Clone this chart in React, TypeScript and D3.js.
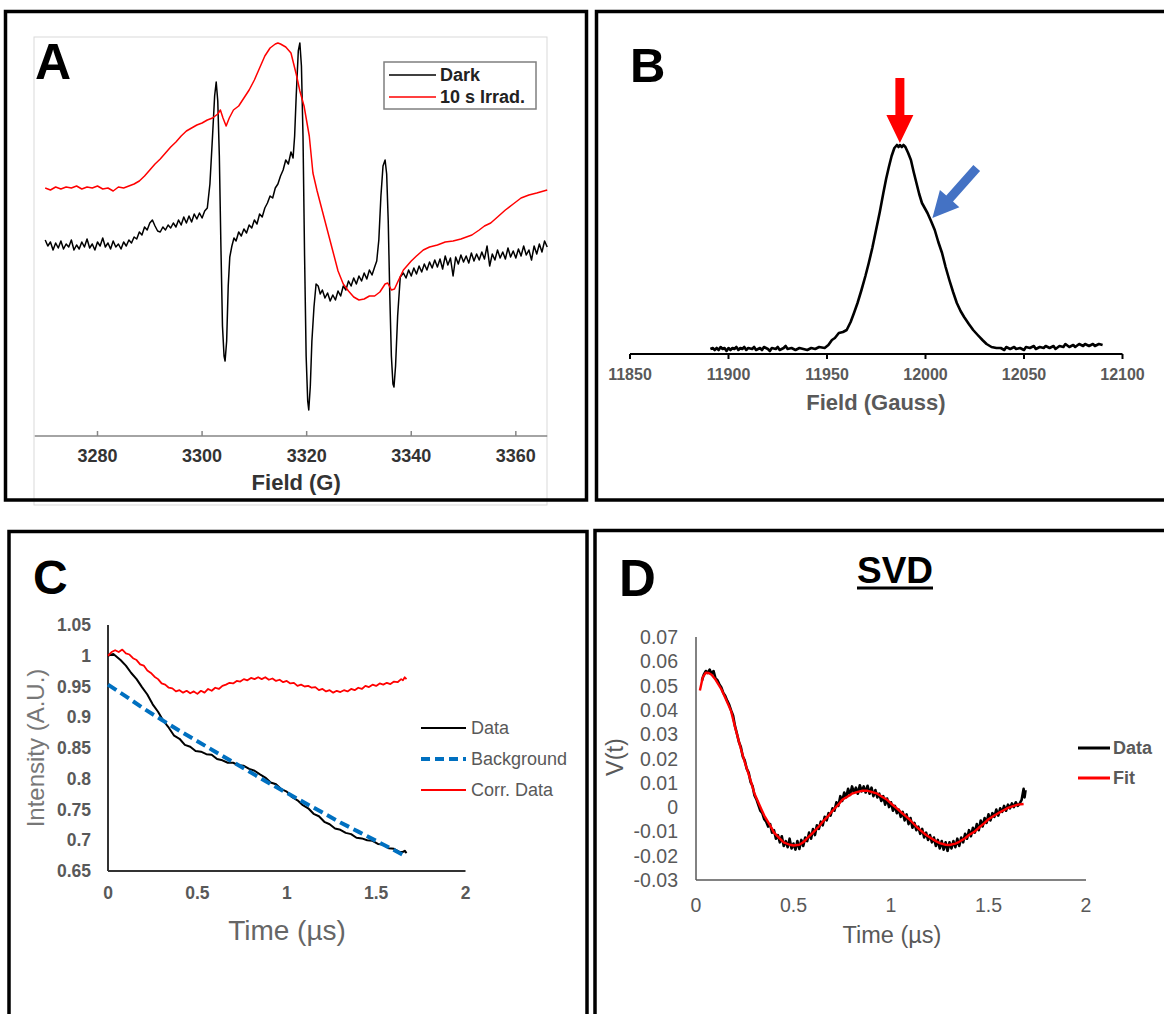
import React from 'react';
import * as d3 from 'd3';

const FONT = "'Liberation Sans', Arial, Helvetica, sans-serif";
const GRAY = '#595959';

// ---------- Panel A : CW EPR (Field in G) ----------
const aTicks = [3280, 3300, 3320, 3340, 3360];
const aDark: [number, number][] = [
  [3270.0,196],[3270.5,190],[3271.0,194],[3271.5,186],[3272.0,193],[3272.5,188],[3273.0,195],[3273.5,187],
  [3274.0,192],[3274.5,189],[3275.0,196],[3275.5,186],[3276.0,191],[3276.5,187],[3277.0,194],[3277.5,189],
  [3278.0,197],[3278.5,188],[3279.0,192],[3279.5,186],[3280.0,194],[3280.5,190],[3281.0,198],[3281.5,189],
  [3282.0,193],[3282.5,187],[3283.0,195],[3283.5,189],[3284.0,192],[3284.5,187],[3285.0,194],[3285.5,190],
  [3286.0,196],[3286.5,193],[3287.0,199],[3287.5,197],[3288.0,204],[3288.5,201],[3289.0,209],[3289.5,206],
  [3290.0,213],[3290.5,216],[3291.0,210],[3291.5,205],[3292.0,204],[3292.5,209],[3293.0,206],[3293.5,211],
  [3294.0,208],[3294.5,213],[3295.0,209],[3295.5,216],[3296.0,211],[3296.5,219],[3297.0,213],[3297.5,220],
  [3298.0,214],[3298.5,222],[3299.0,217],[3299.5,223],[3300.0,218],[3300.5,225],[3301.0,228],[3301.5,252],
  [3302.0,300],[3302.4,340],[3302.7,354],[3303.0,335],[3303.3,280],[3303.6,190],[3303.9,110],[3304.2,80],
  [3304.4,75],[3304.7,95],[3305.0,150],[3305.3,179],[3305.7,190],[3306.1,198],[3306.5,195],[3307.0,204],
  [3307.5,200],[3308.0,207],[3308.5,203],[3309.0,211],[3309.5,208],[3310.0,216],[3310.5,212],[3311.0,222],
  [3311.5,219],[3312.0,228],[3312.5,233],[3313.0,240],[3313.5,238],[3314.0,248],[3314.5,252],[3315.0,260],
  [3315.5,266],[3316.0,276],[3316.5,272],[3317.0,284],[3317.4,278],[3317.7,300],[3318.0,340],[3318.4,385],
  [3318.7,393],[3319.0,370],[3319.3,300],[3319.6,180],[3319.9,80],[3320.2,35],[3320.4,26],[3320.7,50],
  [3321.0,95],[3321.4,129],[3321.8,152],[3322.2,150],[3322.6,142],[3323.0,146],[3323.5,138],[3324.0,143],
  [3324.5,135],[3325.0,141],[3325.5,136],[3326.0,145],[3326.5,140],[3327.0,150],[3327.5,146],[3328.0,155],
  [3328.5,150],[3329.0,158],[3329.5,152],[3330.0,160],[3330.5,155],[3331.0,163],[3331.5,157],[3332.0,166],
  [3332.5,161],[3333.0,169],[3333.4,175],[3333.8,196],[3334.2,240],[3334.6,270],[3335.0,276],[3335.3,262],
  [3335.6,215],[3335.9,140],[3336.2,80],[3336.5,52],[3336.7,49],[3337.0,70],[3337.4,120],[3337.9,159],
  [3338.5,163],[3339.0,158],[3339.5,166],[3340.0,160],[3340.5,168],[3341.0,162],[3341.5,170],[3342.0,164],
  [3342.5,172],[3343.0,166],[3343.5,174],[3344.0,168],[3344.5,176],[3345.0,169],[3345.5,177],[3346.0,167],
  [3346.5,180],[3347.0,171],[3347.5,178],[3348.0,160],[3348.5,179],[3349.0,172],[3349.5,181],[3350.0,174],
  [3350.5,180],[3351.0,173],[3351.5,183],[3352.0,175],[3352.5,182],[3353.0,176],[3353.5,184],[3354.0,177],
  [3354.5,190],[3355.0,170],[3355.5,182],[3356.0,176],[3356.5,186],[3357.0,178],[3357.5,184],[3358.0,177],
  [3358.5,188],[3359.0,179],[3359.5,185],[3360.0,178],[3360.5,187],[3361.0,180],[3361.5,190],[3362.0,181],
  [3362.5,186],[3363.0,176],[3363.5,190],[3364.0,182],[3364.5,192],[3365.0,184],[3365.5,195],[3366.0,189],
];
const aIrrad: [number, number][] = [
  [3270,248],[3271,246],[3272,249],[3273,247],[3274,249],[3275,248],[3276,250],[3277,247],[3278,249],
  [3279,248],[3280,250],[3281,247],[3282,248],[3283,245],[3284,249],[3285,248],[3286,250],[3287,252],
  [3288,255],[3289,260],[3290,266],[3291,272],[3292,277],[3293,283],[3294,289],[3295,294],[3296,300],
  [3297,305],[3298,308],[3299,311],[3300,313],[3301,316],[3302,318],[3303,322],[3303.5,326],[3304.0,318],
  [3304.6,310],[3305.2,318],[3306,326],[3307,330],[3308,338],[3309,346],[3310,356],[3311,368],[3312,380],
  [3313,388],[3314,392],[3314.5,393],[3315,392],[3316,389],[3317,383],[3318,362],[3318.7,345],[3319.5,330],
  [3320.5,300],[3321.2,263],[3322,245],[3323,225],[3324,205],[3325,185],[3326,165],[3327,152],[3328,145],
  [3329,139],[3330,136],[3331,137],[3332,140],[3333,140],[3334,144],[3335,152],[3335.5,153],[3336.2,146],
  [3336.8,147],[3337.5,155],[3338.5,166],[3340,175],[3341,180],[3342.3,186],[3343.5,189],[3345,191],
  [3346.5,194],[3348,195],[3349.5,197],[3351.6,201],[3353,206],[3354,210],[3355.2,213],[3356.5,219],
  [3358,226],[3359.5,232],[3361,238],[3362.5,241],[3364,243],[3366,246],
];

// ---------- Panel B : Field (Gauss) ----------
const bTicks = [11850, 11900, 11950, 12000, 12050, 12100];
const bSignal: [number, number][] = [
  [11890.8,5],[11892,6],[11893,4],[11894,6],[11895,4],[11896,7],[11897,5],[11898,6],[11899,3],[11900,6],
  [11901,4],[11902,6],[11903,5],[11904,7],[11905,4],[11906,6],[11907,5],[11908,7],[11909,4],[11910,6],
  [11912,5],[11913,7],[11914,4],[11916,6],[11917,4],[11918,7],[11920,5],[11921,3],[11922,6],[11924,5],
  [11925,7],[11926,4],[11928,6],[11929,8],[11930,5],[11932,6],[11934,4],[11936,6],[11938,5],[11940,4],
  [11942,6],[11944,5],[11946,7],[11948.8,6],[11950.7,9],[11952.5,14],[11954,16],[11956,21],[11958.1,22],
  [11960,24],[11962,32],[11963.7,41],[11965.5,51],[11967.5,64],[11969.5,78],[11971.2,91],[11973,106],
  [11974.9,124],[11976.8,142],[11978.6,161],[11980,175],[11981.4,187],[11982.8,198],[11984.2,206],
  [11985.5,209],[11986.3,207],[11987,209],[11988,207],[11988.8,209],[11989.8,207],[11991.2,201],
  [11992.6,194],[11994,182],[11995.4,171],[11996.8,160],[11998.2,151],[11999.6,146],[12001,141],
  [12002.8,133],[12004.7,124],[12006.5,112],[12008.4,101],[12010.2,87],[12012.1,74],[12014,62],
  [12015.9,51],[12017.8,43],[12019.6,37],[12022,30],[12024.2,24],[12026.5,19],[12028.9,14],[12031,10],
  [12033.5,7],[12036,6],[12038.2,6],[12040,4],[12041,7],[12043,5],[12045,7],[12046,5],[12048,6],[12050,4],
  [12051,7],[12053,6],[12055,8],[12056,5],[12058,7],[12060,6],[12061,8],[12063,6],[12065,8],[12066,5],
  [12068,8],[12070,7],[12071,10],[12073,7],[12075,9],[12076,7],[12078,10],[12080,8],[12081,10],[12083,8],
  [12085,10],[12086,8],[12088,10],[12089.9,9],
];

// ---------- Panel C : DEER time trace ----------
const cXTicks = [0, 0.5, 1, 1.5, 2];
const cYTicks = [0.65, 0.7, 0.75, 0.8, 0.85, 0.9, 0.95, 1, 1.05];
const cData: [number, number][] = [
  [0,1.000],[0.03,1.003],[0.05,0.998],[0.07,0.993],[0.10,0.984],[0.13,0.972],[0.16,0.962],[0.19,0.949],
  [0.22,0.937],[0.25,0.921],[0.28,0.909],[0.31,0.894],[0.34,0.883],[0.37,0.870],[0.40,0.865],[0.43,0.855],
  [0.46,0.852],[0.49,0.845],[0.52,0.844],[0.55,0.840],[0.58,0.839],[0.61,0.832],[0.64,0.830],[0.67,0.826],
  [0.70,0.826],[0.73,0.822],[0.76,0.821],[0.79,0.816],[0.82,0.813],[0.85,0.807],[0.88,0.802],[0.91,0.794],
  [0.94,0.791],[0.97,0.783],[1.00,0.779],[1.03,0.770],[1.06,0.765],[1.09,0.757],[1.12,0.752],[1.15,0.743],
  [1.18,0.739],[1.21,0.730],[1.24,0.726],[1.27,0.719],[1.30,0.717],[1.33,0.712],[1.36,0.710],[1.39,0.704],
  [1.42,0.703],[1.45,0.700],[1.48,0.699],[1.51,0.694],[1.54,0.693],[1.57,0.687],[1.60,0.686],[1.63,0.681],
  [1.65,0.681],[1.66,0.683],[1.67,0.679],
];
const cBackground: [number, number][] = [
  [0,0.953],[0.1,0.934],[0.2,0.914],[0.3,0.896],[0.4,0.878],[0.5,0.861],[0.6,0.844],[0.7,0.827],
  [0.8,0.810],[0.9,0.793],[1.0,0.777],[1.1,0.761],[1.2,0.745],[1.3,0.729],[1.4,0.714],[1.5,0.699],
  [1.6,0.684],[1.67,0.673],
];
const cCorr: [number, number][] = [
  [0,1.000],[0.02,1.006],[0.04,1.009],[0.06,1.006],[0.08,1.010],[0.10,1.004],[0.12,1.002],[0.14,0.996],
  [0.16,0.993],[0.18,0.986],[0.20,0.984],[0.22,0.976],[0.24,0.972],[0.26,0.966],[0.28,0.962],[0.30,0.955],
  [0.32,0.953],[0.34,0.948],[0.36,0.947],[0.38,0.942],[0.40,0.944],[0.42,0.940],[0.44,0.943],[0.46,0.939],
  [0.48,0.942],[0.50,0.938],[0.52,0.943],[0.54,0.940],[0.56,0.946],[0.58,0.943],[0.60,0.948],[0.62,0.946],
  [0.64,0.951],[0.66,0.953],[0.68,0.956],[0.70,0.955],[0.72,0.959],[0.74,0.958],[0.76,0.962],[0.78,0.960],
  [0.80,0.964],[0.82,0.962],[0.84,0.965],[0.86,0.962],[0.88,0.965],[0.90,0.961],[0.92,0.963],[0.94,0.959],
  [0.96,0.961],[0.98,0.957],[1.00,0.959],[1.02,0.955],[1.04,0.956],[1.06,0.951],[1.08,0.953],[1.10,0.950],
  [1.12,0.951],[1.14,0.948],[1.16,0.949],[1.18,0.944],[1.20,0.946],[1.22,0.942],[1.24,0.944],[1.26,0.940],
  [1.28,0.943],[1.30,0.941],[1.32,0.944],[1.34,0.942],[1.36,0.946],[1.38,0.944],[1.40,0.948],[1.42,0.946],
  [1.44,0.951],[1.46,0.949],[1.48,0.953],[1.50,0.951],[1.52,0.955],[1.54,0.953],[1.56,0.956],[1.58,0.954],
  [1.60,0.958],[1.62,0.957],[1.64,0.962],[1.65,0.960],[1.66,0.965],[1.67,0.962],
];
const cLegend = [
  { label: 'Data', color: '#000000', dash: '', width: 2 },
  { label: 'Background', color: '#0070c0', dash: '9,5', width: 4 },
  { label: 'Corr. Data', color: '#ff0000', dash: '', width: 2 },
];

// ---------- Panel D : SVD ----------
const dXTicks = [0, 0.5, 1, 1.5, 2];
const dYTicks = [-0.03, -0.02, -0.01, 0, 0.01, 0.02, 0.03, 0.04, 0.05, 0.06, 0.07];
const dData: [number, number][] = [
  [0.03,0.0520],[0.04,0.0545],[0.05,0.0560],[0.06,0.0552],[0.07,0.0566],[0.08,0.0548],[0.09,0.0560],
  [0.10,0.0530],[0.11,0.0522],[0.12,0.0505],[0.13,0.0492],[0.14,0.0470],[0.15,0.0457],[0.16,0.0438],
  [0.17,0.0422],[0.18,0.0398],[0.19,0.0377],[0.20,0.0333],[0.21,0.0302],[0.22,0.0268],[0.23,0.0247],
  [0.24,0.0208],[0.25,0.0192],[0.26,0.0158],[0.27,0.0142],[0.28,0.0103],[0.29,0.0087],[0.30,0.0048],
  [0.31,0.0032],[0.32,0.0008],[0.33,-0.0015],[0.34,-0.0025],[0.35,-0.0050],[0.36,-0.0060],[0.37,-0.0080],
  [0.38,-0.0070],[0.39,-0.0105],[0.40,-0.0095],[0.41,-0.0130],[0.42,-0.0115],[0.43,-0.0145],[0.44,-0.0120],
  [0.45,-0.0160],[0.46,-0.0140],[0.47,-0.0165],[0.48,-0.0130],[0.49,-0.0170],[0.50,-0.0150],[0.51,-0.0175],
  [0.52,-0.0140],[0.53,-0.0172],[0.54,-0.0135],[0.55,-0.0160],[0.56,-0.0125],[0.57,-0.0140],[0.58,-0.0105],
  [0.59,-0.0130],[0.60,-0.0090],[0.61,-0.0115],[0.62,-0.0075],[0.63,-0.0090],[0.64,-0.0060],[0.65,-0.0075],
  [0.66,-0.0040],[0.67,-0.0055],[0.68,-0.0025],[0.69,-0.0035],[0.70,-0.0005],[0.71,-0.0015],[0.72,0.0020],
  [0.73,0.0005],[0.74,0.0045],[0.75,0.0025],[0.76,0.0060],[0.77,0.0040],[0.78,0.0075],[0.79,0.0050],
  [0.80,0.0085],[0.81,0.0060],[0.82,0.0080],[0.83,0.0055],[0.84,0.0090],[0.85,0.0065],[0.86,0.0085],
  [0.87,0.0060],[0.88,0.0088],[0.89,0.0055],[0.90,0.0080],[0.91,0.0045],[0.92,0.0070],[0.93,0.0040],
  [0.94,0.0055],[0.95,0.0025],[0.96,0.0045],[0.97,0.0010],[0.98,0.0035],[0.99,0.0000],[1.00,0.0020],
  [1.01,-0.0015],[1.02,0.0005],[1.03,-0.0025],[1.04,-0.0010],[1.05,-0.0040],[1.06,-0.0020],[1.07,-0.0055],
  [1.08,-0.0030],[1.09,-0.0070],[1.10,-0.0045],[1.11,-0.0085],[1.12,-0.0065],[1.13,-0.0095],[1.14,-0.0080],
  [1.15,-0.0110],[1.16,-0.0090],[1.17,-0.0125],[1.18,-0.0105],[1.19,-0.0135],[1.20,-0.0115],[1.21,-0.0145],
  [1.22,-0.0125],[1.23,-0.0160],[1.24,-0.0135],[1.25,-0.0170],[1.26,-0.0140],[1.27,-0.0175],[1.28,-0.0145],
  [1.29,-0.0180],[1.30,-0.0145],[1.31,-0.0170],[1.32,-0.0140],[1.33,-0.0165],[1.34,-0.0130],[1.35,-0.0160],
  [1.36,-0.0125],[1.37,-0.0145],[1.38,-0.0110],[1.39,-0.0130],[1.40,-0.0095],[1.41,-0.0120],[1.42,-0.0085],
  [1.43,-0.0105],[1.44,-0.0070],[1.45,-0.0095],[1.46,-0.0055],[1.47,-0.0080],[1.48,-0.0045],[1.49,-0.0065],
  [1.50,-0.0030],[1.51,-0.0055],[1.52,-0.0025],[1.53,-0.0040],[1.54,-0.0010],[1.55,-0.0035],[1.56,-0.0005],
  [1.57,-0.0020],[1.58,0.0005],[1.59,-0.0015],[1.60,0.0010],[1.61,-0.0005],[1.62,0.0015],[1.63,0.0000],
  [1.64,0.0020],[1.65,0.0005],[1.66,0.0015],[1.67,0.0030],[1.68,0.0075],[1.685,0.0040],[1.69,0.0070],
];
const dFit: [number, number][] = [
  [0.02,0.0480],[0.035,0.0535],[0.05,0.0553],[0.065,0.0552],[0.08,0.0545],[0.10,0.0525],[0.13,0.0485],
  [0.15,0.0450],[0.18,0.0395],[0.20,0.0330],[0.23,0.0240],[0.25,0.0185],[0.28,0.0110],[0.30,0.0055],
  [0.33,0.0000],[0.35,-0.0035],[0.38,-0.0075],[0.40,-0.0105],[0.43,-0.0130],[0.45,-0.0145],[0.48,-0.0155],
  [0.50,-0.0158],[0.53,-0.0155],[0.55,-0.0145],[0.58,-0.0120],[0.60,-0.0105],[0.63,-0.0080],[0.65,-0.0060],
  [0.68,-0.0035],[0.70,-0.0015],[0.73,0.0010],[0.75,0.0030],[0.78,0.0045],[0.80,0.0055],[0.83,0.0063],
  [0.85,0.0067],[0.88,0.0067],[0.90,0.0063],[0.93,0.0055],[0.95,0.0045],[0.98,0.0030],[1.00,0.0015],
  [1.03,-0.0005],[1.05,-0.0020],[1.08,-0.0040],[1.10,-0.0055],[1.13,-0.0080],[1.15,-0.0095],[1.18,-0.0115],
  [1.20,-0.0125],[1.23,-0.0140],[1.25,-0.0148],[1.28,-0.0155],[1.30,-0.0156],[1.33,-0.0150],[1.35,-0.0143],
  [1.38,-0.0128],[1.40,-0.0115],[1.43,-0.0100],[1.45,-0.0085],[1.48,-0.0065],[1.50,-0.0050],[1.53,-0.0035],
  [1.55,-0.0025],[1.58,-0.0012],[1.60,-0.0003],[1.63,0.0005],[1.65,0.0010],[1.68,0.0013],
];
const dLegend = [
  { label: 'Data', color: '#000000' },
  { label: 'Fit', color: '#ff0000' },
];

// ---------- scales ----------
const xA = d3.scaleLinear().domain([3268, 3366]).range([34.75, 547.2]);
const yA = d3.scaleLinear().domain([0, 400]).range([436, 36]);
const xB = d3.scaleLinear().domain([11850, 12100]).range([630, 1122.5]);
const yB = d3.scaleLinear().domain([0, 300]).range([354, 54]);
const xC = d3.scaleLinear().domain([0, 2]).range([108, 465.5]);
const yC = d3.scaleLinear().domain([0.65, 1.05]).range([871, 625]);
const xD = d3.scaleLinear().domain([0, 2]).range([696, 1086]);
const yD = d3.scaleLinear().domain([-0.03, 0.07]).range([880, 637]);

const mk = (x: any, y: any) =>
  d3.line<[number, number]>().x((d) => x(d[0])).y((d) => y(d[1]));

const fmt = (v: number) => String(+v.toFixed(2));

function arrowPath(x1: number, y1: number, x2: number, y2: number, shaft: number, headW: number, headL: number) {
  const L = Math.hypot(x2 - x1, y2 - y1);
  const ang = (Math.atan2(y2 - y1, x2 - x1) * 180) / Math.PI;
  const s = shaft / 2, h = headW / 2, b = L - headL;
  const d = `M0,${-s} L${b},${-s} L${b},${-h} L${L},0 L${b},${h} L${b},${s} L0,${s} Z`;
  return { d, transform: `translate(${x1},${y1}) rotate(${ang})` };
}

export default function App() {
  const lineA = mk(xA, yA);
  const lineB = mk(xB, yB);
  const lineC = mk(xC, yC);
  const lineD = mk(xD, yD);

  const redArrow = arrowPath(xB(11987), yB(276), xB(11987), yB(211), 9, 27, 28);
  const blueArrow = arrowPath(xB(12026), yB(186), xB(12003.5), yB(136), 9, 26, 26);

  return (
    <svg
      width={1164}
      height={1014}
      style={{ position: 'absolute', left: 0, top: 0, background: '#fff' }}
      fontFamily={FONT}
    >
      <rect x={0} y={0} width={1164} height={1014} fill="#fff" />

      {/* ================= Panel A ================= */}
      <rect x={34} y={37} width={513} height={468} fill="none" stroke="#d9d9d9" strokeWidth={1} />
      <line x1={xA.range()[0]} x2={xA.range()[1]} y1={yA(0)} y2={yA(0)} stroke="#868686" strokeWidth={1.5} />
      {aTicks.map((t) => (
        <g key={t}>
          <line x1={xA(t)} x2={xA(t)} y1={yA(0)} y2={yA(0) - 5} stroke="#868686" strokeWidth={1.5} />
          <text x={xA(t)} y={456} textAnchor="middle" dominantBaseline="central" fontSize={18} fontWeight="bold" fill="#333">
            {t}
          </text>
        </g>
      ))}
      <text x={xA(3318)} y={482} textAnchor="middle" dominantBaseline="central" fontSize={22} fontWeight="bold" fill="#333">
        Field (G)
      </text>
      <path d={lineA(aDark) || ''} fill="none" stroke="#000" strokeWidth={1.5} strokeLinejoin="round" />
      <path d={lineA(aIrrad) || ''} fill="none" stroke="#ff0000" strokeWidth={1.5} strokeLinejoin="round" />
      <rect x={384} y={62} width={152} height={47} fill="#fff" stroke="#7f7f7f" strokeWidth={1.5} />
      <line x1={389} x2={436} y1={75} y2={75} stroke="#000" strokeWidth={1.5} />
      <line x1={389} x2={436} y1={97} y2={97} stroke="#ff0000" strokeWidth={1.5} />
      <text x={440} y={75} dominantBaseline="central" fontSize={18} fontWeight="bold" fill="#222">Dark</text>
      <text x={440} y={97} dominantBaseline="central" fontSize={18} fontWeight="bold" fill="#222">10 s Irrad.</text>
      <text x={35} y={79} fontSize={50} fontWeight="bold" fill="#000">A</text>
      <rect x={5.5} y={11.5} width={581} height={488.5} fill="none" stroke="#000" strokeWidth={3.5} />

      {/* ================= Panel B ================= */}
      <line x1={xB.range()[0]} x2={xB.range()[1]} y1={yB(0)} y2={yB(0)} stroke="#000" strokeWidth={2} />
      {bTicks.map((t) => (
        <g key={t}>
          <line x1={xB(t)} x2={xB(t)} y1={yB(0)} y2={yB(0) + 5} stroke="#000" strokeWidth={2} />
          <text x={xB(t)} y={374} textAnchor="middle" dominantBaseline="central" fontSize={16} fontWeight="bold" fill={GRAY}>
            {t}
          </text>
        </g>
      ))}
      <text x={876} y={402} textAnchor="middle" dominantBaseline="central" fontSize={22} fontWeight="bold" fill={GRAY}>
        Field (Gauss)
      </text>
      <path d={lineB(bSignal) || ''} fill="none" stroke="#000" strokeWidth={2.6} strokeLinejoin="round" />
      <path d={redArrow.d} transform={redArrow.transform} fill="#ff0000" />
      <path d={blueArrow.d} transform={blueArrow.transform} fill="#4472c4" />
      <text x={630} y={82} fontSize={49} fontWeight="bold" fill="#000">B</text>
      <rect x={596.5} y={11.5} width={580} height={488.5} fill="none" stroke="#000" strokeWidth={3.5} />

      {/* ================= Panel C ================= */}
      <line x1={xC(0)} x2={xC(0)} y1={yC(0.65)} y2={yC(1.05)} stroke="#333" strokeWidth={2} />
      <line x1={xC(0)} x2={xC(2)} y1={yC(0.65)} y2={yC(0.65)} stroke="#333" strokeWidth={2} />
      {cYTicks.map((t) => (
        <text key={t} x={91} y={yC(t)} textAnchor="end" dominantBaseline="central" fontSize={17.5} fontWeight="bold" fill={GRAY}>
          {fmt(t)}
        </text>
      ))}
      {cXTicks.map((t) => (
        <text key={t} x={xC(t)} y={893} textAnchor="middle" dominantBaseline="central" fontSize={17.5} fontWeight="bold" fill={GRAY}>
          {fmt(t)}
        </text>
      ))}
      <text x={287} y={930} textAnchor="middle" dominantBaseline="central" fontSize={28} fill="#666">
        Time (µs)
      </text>
      <text
        transform="translate(35,748) rotate(-90)"
        textAnchor="middle"
        dominantBaseline="central"
        fontSize={24}
        fill="#777"
      >
        Intensity (A.U.)
      </text>
      <path d={lineC(cData) || ''} fill="none" stroke="#000" strokeWidth={2} strokeLinejoin="round" />
      <path d={lineC(cBackground) || ''} fill="none" stroke="#0070c0" strokeWidth={4} strokeDasharray="10,5" />
      <path d={lineC(cCorr) || ''} fill="none" stroke="#ff0000" strokeWidth={1.8} strokeLinejoin="round" />
      {cLegend.map((l, i) => (
        <g key={l.label}>
          <line x1={421} x2={466} y1={728 + i * 31} y2={728 + i * 31} stroke={l.color} strokeWidth={l.width} strokeDasharray={l.dash} />
          <text x={471} y={728 + i * 31} dominantBaseline="central" fontSize={18} fill={GRAY}>
            {l.label}
          </text>
        </g>
      ))}
      <text x={33} y={594} fontSize={48} fontWeight="bold" fill="#000">C</text>
      <rect x={9} y={531.5} width={578} height={500} fill="none" stroke="#000" strokeWidth={3.5} />

      {/* ================= Panel D ================= */}
      <line x1={xD(0)} x2={xD(0)} y1={yD(-0.03)} y2={yD(0.07)} stroke={GRAY} strokeWidth={1.5} />
      <line x1={xD(0)} x2={xD(2)} y1={yD(-0.03)} y2={yD(-0.03)} stroke={GRAY} strokeWidth={1.5} />
      {dYTicks.map((t) => (
        <text key={t} x={678} y={yD(t)} textAnchor="end" dominantBaseline="central" fontSize={19.5} fill={GRAY}>
          {fmt(t)}
        </text>
      ))}
      {dXTicks.map((t) => (
        <text key={t} x={xD(t)} y={905} textAnchor="middle" dominantBaseline="central" fontSize={19.5} fill={GRAY}>
          {fmt(t)}
        </text>
      ))}
      <text x={892} y={935} textAnchor="middle" dominantBaseline="central" fontSize={23.5} fill={GRAY}>
        Time (µs)
      </text>
      <text transform="translate(615,757) rotate(-90)" textAnchor="middle" dominantBaseline="central" fontSize={23.5} fill={GRAY}>
        V(t)
      </text>
      <path d={lineD(dData) || ''} fill="none" stroke="#000" strokeWidth={2.6} strokeLinejoin="round" />
      <path d={lineD(dFit) || ''} fill="none" stroke="#ff0000" strokeWidth={2.4} strokeLinejoin="round" />
      {dLegend.map((l, i) => (
        <g key={l.label}>
          <line x1={1078} x2={1110} y1={748 + i * 30} y2={748 + i * 30} stroke={l.color} strokeWidth={3} />
          <text x={1113} y={748 + i * 30} dominantBaseline="central" fontSize={18} fontWeight="bold" fill={GRAY}>
            {l.label}
          </text>
        </g>
      ))}
      <text x={895} y={583} textAnchor="middle" fontSize={37} fontWeight="bold" fill="#000">SVD</text>
      <line x1={857} x2={933} y1={588} y2={588} stroke="#000" strokeWidth={3} />
      <text x={619} y={596} fontSize={51} fontWeight="bold" fill="#000">D</text>
      <rect x={595} y={530.5} width={580} height={500} fill="none" stroke="#000" strokeWidth={3.5} />
    </svg>
  );
}
